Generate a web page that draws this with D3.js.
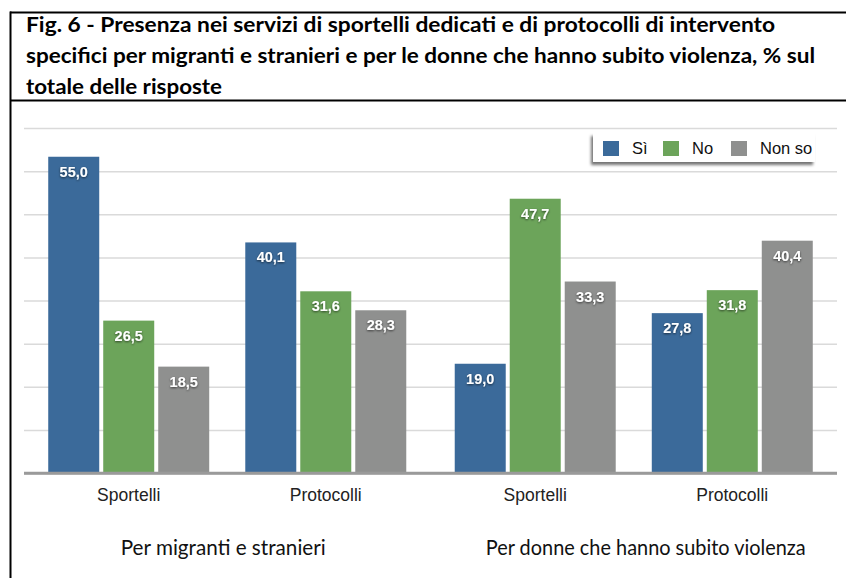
<!DOCTYPE html>
<html>
<head>
<meta charset="utf-8">
<script src="https://cdn.jsdelivr.net/npm/d3@7"></script>
<style>
  html, body { margin: 0; padding: 0; background: #fff; }
  svg { display: block; }
</style>
</head>
<body>
<svg id="chart" width="846" height="578"></svg>
<script>
// ---- data ----
const titleLines = [
  "Fig. 6 - Presenza nei servizi di sportelli dedicati e di protocolli di intervento",
  "specifici per migranti e stranieri e per le donne che hanno subito violenza, % sul",
  "totale delle risposte"
];
const groups = ["Per migranti e stranieri", "Per donne che hanno subito violenza"];
const categories = ["Sportelli", "Protocolli"];
const seriesNames = ["Sì", "No", "Non so"];
const valuesSi    = [55.0, 40.1, 19.0, 27.8];
const valuesNo    = [26.5, 31.6, 47.7, 31.8];
const valuesNonSo = [18.5, 28.3, 33.3, 40.4];
const yTicks = [0, 7.5, 15, 22.5, 30, 37.5, 45, 52.5, 60];
const colors = ["#3b6a9a", "#6ca45a", "#8f908f"];

// ---- layout ----
const svg = d3.select("#chart");
const plot = { left: 24, right: 837, top: 128, bottom: 473 };

const defs = svg.append("defs");
const ls = defs.append("filter").attr("id", "legShadow")
  .attr("x", "-10%").attr("y", "-30%").attr("width", "120%").attr("height", "170%");
ls.append("feDropShadow").attr("dx", -2).attr("dy", 3).attr("stdDeviation", 1.8)
  .attr("flood-color", "#000").attr("flood-opacity", 0.55);
const ts = defs.append("filter").attr("id", "txtShadow")
  .attr("x", "-20%").attr("y", "-30%").attr("width", "140%").attr("height", "160%");
ts.append("feDropShadow").attr("dx", 0).attr("dy", 1).attr("stdDeviation", 0.8)
  .attr("flood-color", "#000").attr("flood-opacity", 0.6);

// ---- frame / title ----
svg.append("line").attr("x1", 10).attr("x2", 846).attr("y1", 12.5).attr("y2", 12.5)
  .attr("stroke", "#000").attr("stroke-width", 2);
svg.append("line").attr("x1", 10).attr("x2", 846).attr("y1", 100.5).attr("y2", 100.5)
  .attr("stroke", "#000").attr("stroke-width", 2);
svg.append("line").attr("x1", 10.5).attr("x2", 10.5).attr("y1", 11.5).attr("y2", 578)
  .attr("stroke", "#000").attr("stroke-width", 2);

const titleW = [749, 789, 196];
const titleY = [32, 63, 94];
svg.append("g").selectAll("text").data(titleLines).join("text")
  .attr("x", 26).attr("y", (d, i) => titleY[i])
  .attr("textLength", (d, i) => titleW[i]).attr("lengthAdjust", "spacingAndGlyphs")
  .attr("font-family", "Lato, 'Open Sans', sans-serif").attr("font-weight", "bold")
  .attr("font-size", 21).attr("fill", "#000")
  .text(d => d);

// ---- scales ----
const y = d3.scaleLinear().domain([0, 60]).range([plot.bottom, plot.top]);
const x0 = d3.scaleBand().domain(groups).range([plot.left, plot.right]).padding(0);
const x1 = d3.scaleBand().domain(categories).range([0, x0.bandwidth()])
  .paddingInner(0.183).paddingOuter(0.123);
const x2 = d3.scaleBand().domain(seriesNames).range([0, x1.bandwidth()])
  .paddingInner(0.0727).paddingOuter(0);

// ---- gridlines ----
const yAxis = d3.axisLeft(y).tickValues(yTicks).tickSize(-(plot.right - plot.left)).tickFormat("");
const gAxis = svg.append("g").attr("transform", `translate(${plot.left},0)`).call(yAxis);
gAxis.select(".domain").remove();
gAxis.selectAll(".tick line")
  .attr("stroke", d => d === 0 ? "#9a9a9a" : "#dadada")
  .attr("stroke-width", d => d === 0 ? 2.5 : 1.5);

// ---- bars ----
const seriesValues = [valuesSi, valuesNo, valuesNonSo];
const rows = [];
groups.forEach((g, gi) => {
  categories.forEach((c, ci) => {
    const idx = gi * categories.length + ci;
    seriesNames.forEach((s, si) => {
      rows.push({ g, c, s, si, v: seriesValues[si][idx] });
    });
  });
});
const fmt = v => d3.format(".1f")(v).replace(".", ",");
const barX = d => x0(d.g) + x1(d.c) + x2(d.s);

const gBars = svg.append("g");
gBars.selectAll("rect").data(rows).join("rect")
  .attr("x", barX).attr("width", x2.bandwidth())
  .attr("y", d => y(d.v)).attr("height", d => y(0) - y(d.v) - 1)
  .attr("fill", d => colors[d.si]);

svg.append("g").selectAll("text").data(rows).join("text")
  .attr("x", d => barX(d) + x2.bandwidth() / 2)
  .attr("y", d => y(d.v) + 20)
  .attr("text-anchor", "middle")
  .attr("font-family", "'Liberation Sans', Arial, sans-serif").attr("font-weight", "bold")
  .attr("font-size", 14.5).attr("fill", "#fff").attr("filter", "url(#txtShadow)")
  .text(d => fmt(d.v));

// redraw baseline over bars
svg.append("line").attr("x1", plot.left).attr("x2", plot.right)
  .attr("y1", y(0)).attr("y2", y(0)).attr("stroke", "#9a9a9a").attr("stroke-width", 2.5);

// ---- category labels ----
const catRows = [];
groups.forEach(g => categories.forEach(c => catRows.push({ g, c })));
svg.append("g").selectAll("text").data(catRows).join("text")
  .attr("x", d => x0(d.g) + x1(d.c) + x1.bandwidth() / 2)
  .attr("y", 501)
  .attr("text-anchor", "middle")
  .attr("font-family", "'Liberation Sans', Arial, sans-serif")
  .attr("font-size", 17.5).attr("fill", "#222")
  .text(d => d.c);

// ---- group labels ----
const groupW = [205, 320];
const groupDx = [-4, 12];
svg.append("g").selectAll("text").data(groups).join("text")
  .attr("x", (d, i) => x0(d) + x0.bandwidth() / 2 + groupDx[i])
  .attr("y", 555)
  .attr("text-anchor", "middle")
  .attr("textLength", (d, i) => groupW[i]).attr("lengthAdjust", "spacingAndGlyphs")
  .attr("font-family", "Lato, 'Open Sans', sans-serif")
  .attr("font-size", 21).attr("fill", "#111")
  .text(d => d);

// ---- legend ----
const leg = svg.append("g").attr("transform", "translate(593,133)");
leg.append("rect").attr("width", 222).attr("height", 29).attr("fill", "#fff")
  .attr("filter", "url(#legShadow)");
const legX = [10, 70, 138];
const legItems = leg.selectAll("g.item").data(seriesNames).join("g")
  .attr("class", "item")
  .attr("transform", (d, i) => `translate(${legX[i]},8)`);
legItems.append("rect").attr("width", 16).attr("height", 15)
  .attr("fill", (d, i) => colors[i]);
legItems.append("text").attr("x", 29).attr("y", 13)
  .attr("font-family", "'Liberation Sans', Arial, sans-serif")
  .attr("font-size", 16.5).attr("fill", "#111")
  .text(d => d);
</script>
</body>
</html>
